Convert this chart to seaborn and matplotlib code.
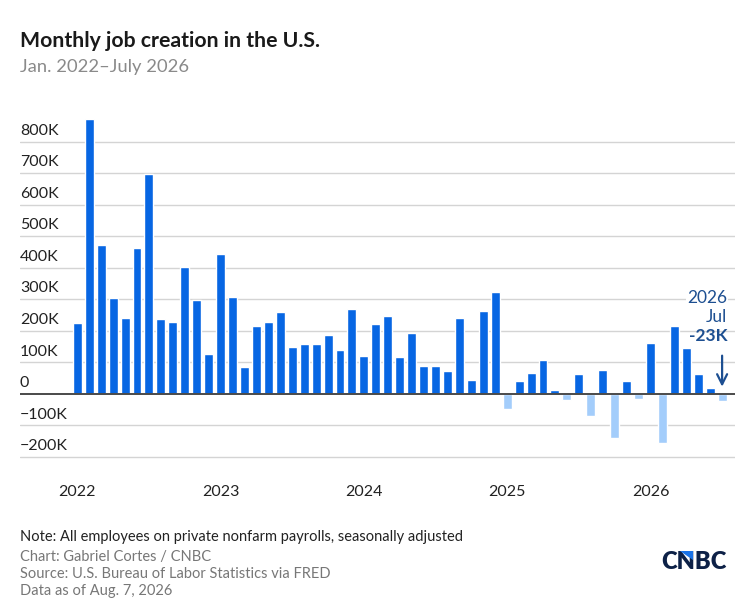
import pandas as pd
import matplotlib.pyplot as plt
import seaborn as sns
from matplotlib.patches import Polygon

# =============================================================
# DATA (thousands of jobs, Jan 2022 - Jul 2026)
# =============================================================
jobs_2022 = [226, 870, 472, 305, 242, 462, 697, 237, 228, 401, 298, 127]
jobs_2023 = [444, 306, 85, 216, 228, 258, 148, 157, 157, 186, 140, 268]
jobs_2024 = [119, 222, 246, 118, 193, 87, 88, 71, 240, 44, 262, 323]
jobs_2025 = [-48, 42, 66, 107, 13, -19, 63, -69, 76, -139, 41, -16]
jobs_2026 = [160, -155, 214, 147, 62, 20, -23]

years = [2022, 2023, 2024, 2025, 2026]
y_ticks = [-200, -100, 0, 100, 200, 300, 400, 500, 600, 700, 800]
y_tick_labels = ['\u2212200K', '\u2212100K', '0', '100K', '200K', '300K',
                 '400K', '500K', '600K', '700K', '800K']

values = jobs_2022 + jobs_2023 + jobs_2024 + jobs_2025 + jobs_2026
df = pd.DataFrame({'month': range(len(values)), 'jobs': values})
df['sign'] = ['pos' if v >= 0 else 'neg' for v in df['jobs']]

BLUE = '#0766e3'
LIGHT = '#a3cdfb'
DARK_BLUE = '#1d4f91'
FONT = ['Lato', 'DejaVu Sans']

# =============================================================
# PLOT
# =============================================================
sns.set_style('white')
plt.rcParams['font.family'] = FONT

fig = plt.figure(figsize=(7.43, 6.06), dpi=100)
ax = fig.add_axes([20 / 743, 138 / 606, 715 / 743, 358 / 606])

sns.barplot(data=df, x='month', y='jobs', hue='sign',
            palette={'pos': BLUE, 'neg': LIGHT}, dodge=False,
            width=0.75, legend=False, ax=ax, saturation=1, zorder=3)

ax.set_xlim(-4.8, 55.08)
ax.set_ylim(-235, 900)

# grid + labels sitting on top of the gridlines
for t, lab in zip(y_ticks, y_tick_labels):
    if t == 0:
        ax.axhline(0, color='#4a4a4a', lw=1.4, zorder=4)
    else:
        ax.axhline(t, color='#d4d4d4', lw=1, zorder=1)
    ax.text(0, t + 12, lab, transform=ax.get_yaxis_transform(),
            ha='left', va='bottom', fontsize=11.5, color='#222222')

ax.set_yticks([])
ax.set_xticks([12 * i for i in range(len(years))])
ax.set_xticklabels([str(y) for y in years], fontsize=11.5, color='#222222')
ax.tick_params(axis='x', length=5, width=1, color='#777777', pad=7)
ax.set_xlabel('')
ax.set_ylabel('')
sns.despine(ax=ax, left=True, bottom=True)

# annotation on the last month
last = len(values) - 1
ax.annotate('', xy=(last, 14), xytext=(last, 130),
            arrowprops=dict(arrowstyle='->', color=DARK_BLUE, lw=1.6,
                            mutation_scale=18), zorder=5)
fig.text(727 / 743, 1 - 298 / 606, '2026', ha='right', va='center',
         fontsize=12.5, color=DARK_BLUE,
         bbox=dict(facecolor='white', edgecolor='none', pad=1))
fig.text(727 / 743, 1 - 317 / 606, 'Jul', ha='right', va='center',
         fontsize=12.5, color=DARK_BLUE)
fig.text(727 / 743, 1 - 336 / 606, '-23K', ha='right', va='center',
         fontsize=12.5, color=DARK_BLUE, fontweight='bold')

# titles
fig.text(20 / 743, 1 - 41 / 606, 'Monthly job creation in the U.S.',
         fontsize=15.3, fontweight='bold', color='#1a1a1a', va='center')
fig.text(20 / 743, 1 - 67 / 606, 'Jan. 2022\u2013July 2026',
         fontsize=13.2, color='#8a8a8a', va='center')

# footer
fig.text(20 / 743, 1 - 537 / 606,
         'Note: All employees on private nonfarm payrolls, seasonally adjusted',
         fontsize=10.5, color='#222222', va='center')
footer = ['Chart: Gabriel Cortes / CNBC',
          'Source: U.S. Bureau of Labor Statistics via FRED',
          'Data as of Aug. 7, 2026']
for i, line in enumerate(footer):
    fig.text(20 / 743, 1 - (557 + 17 * i) / 606, line,
             fontsize=10.5, color='#777777', va='center')

# logo: wordmark plus the small blue wedge on the N
fig.text(727 / 743, 1 - 562 / 606, 'CNBC', ha='right', va='center',
         fontsize=17, fontweight='heavy', color='#0d2147')
wedge = [(680, 551), (693, 551), (693, 560)]
fig.patches.append(Polygon([(x / 743, 1 - y / 606) for x, y in wedge],
                           closed=True, transform=fig.transFigure,
                           facecolor='#1a73e8', edgecolor='none', zorder=5))

fig.savefig('out.png', dpi=100)
